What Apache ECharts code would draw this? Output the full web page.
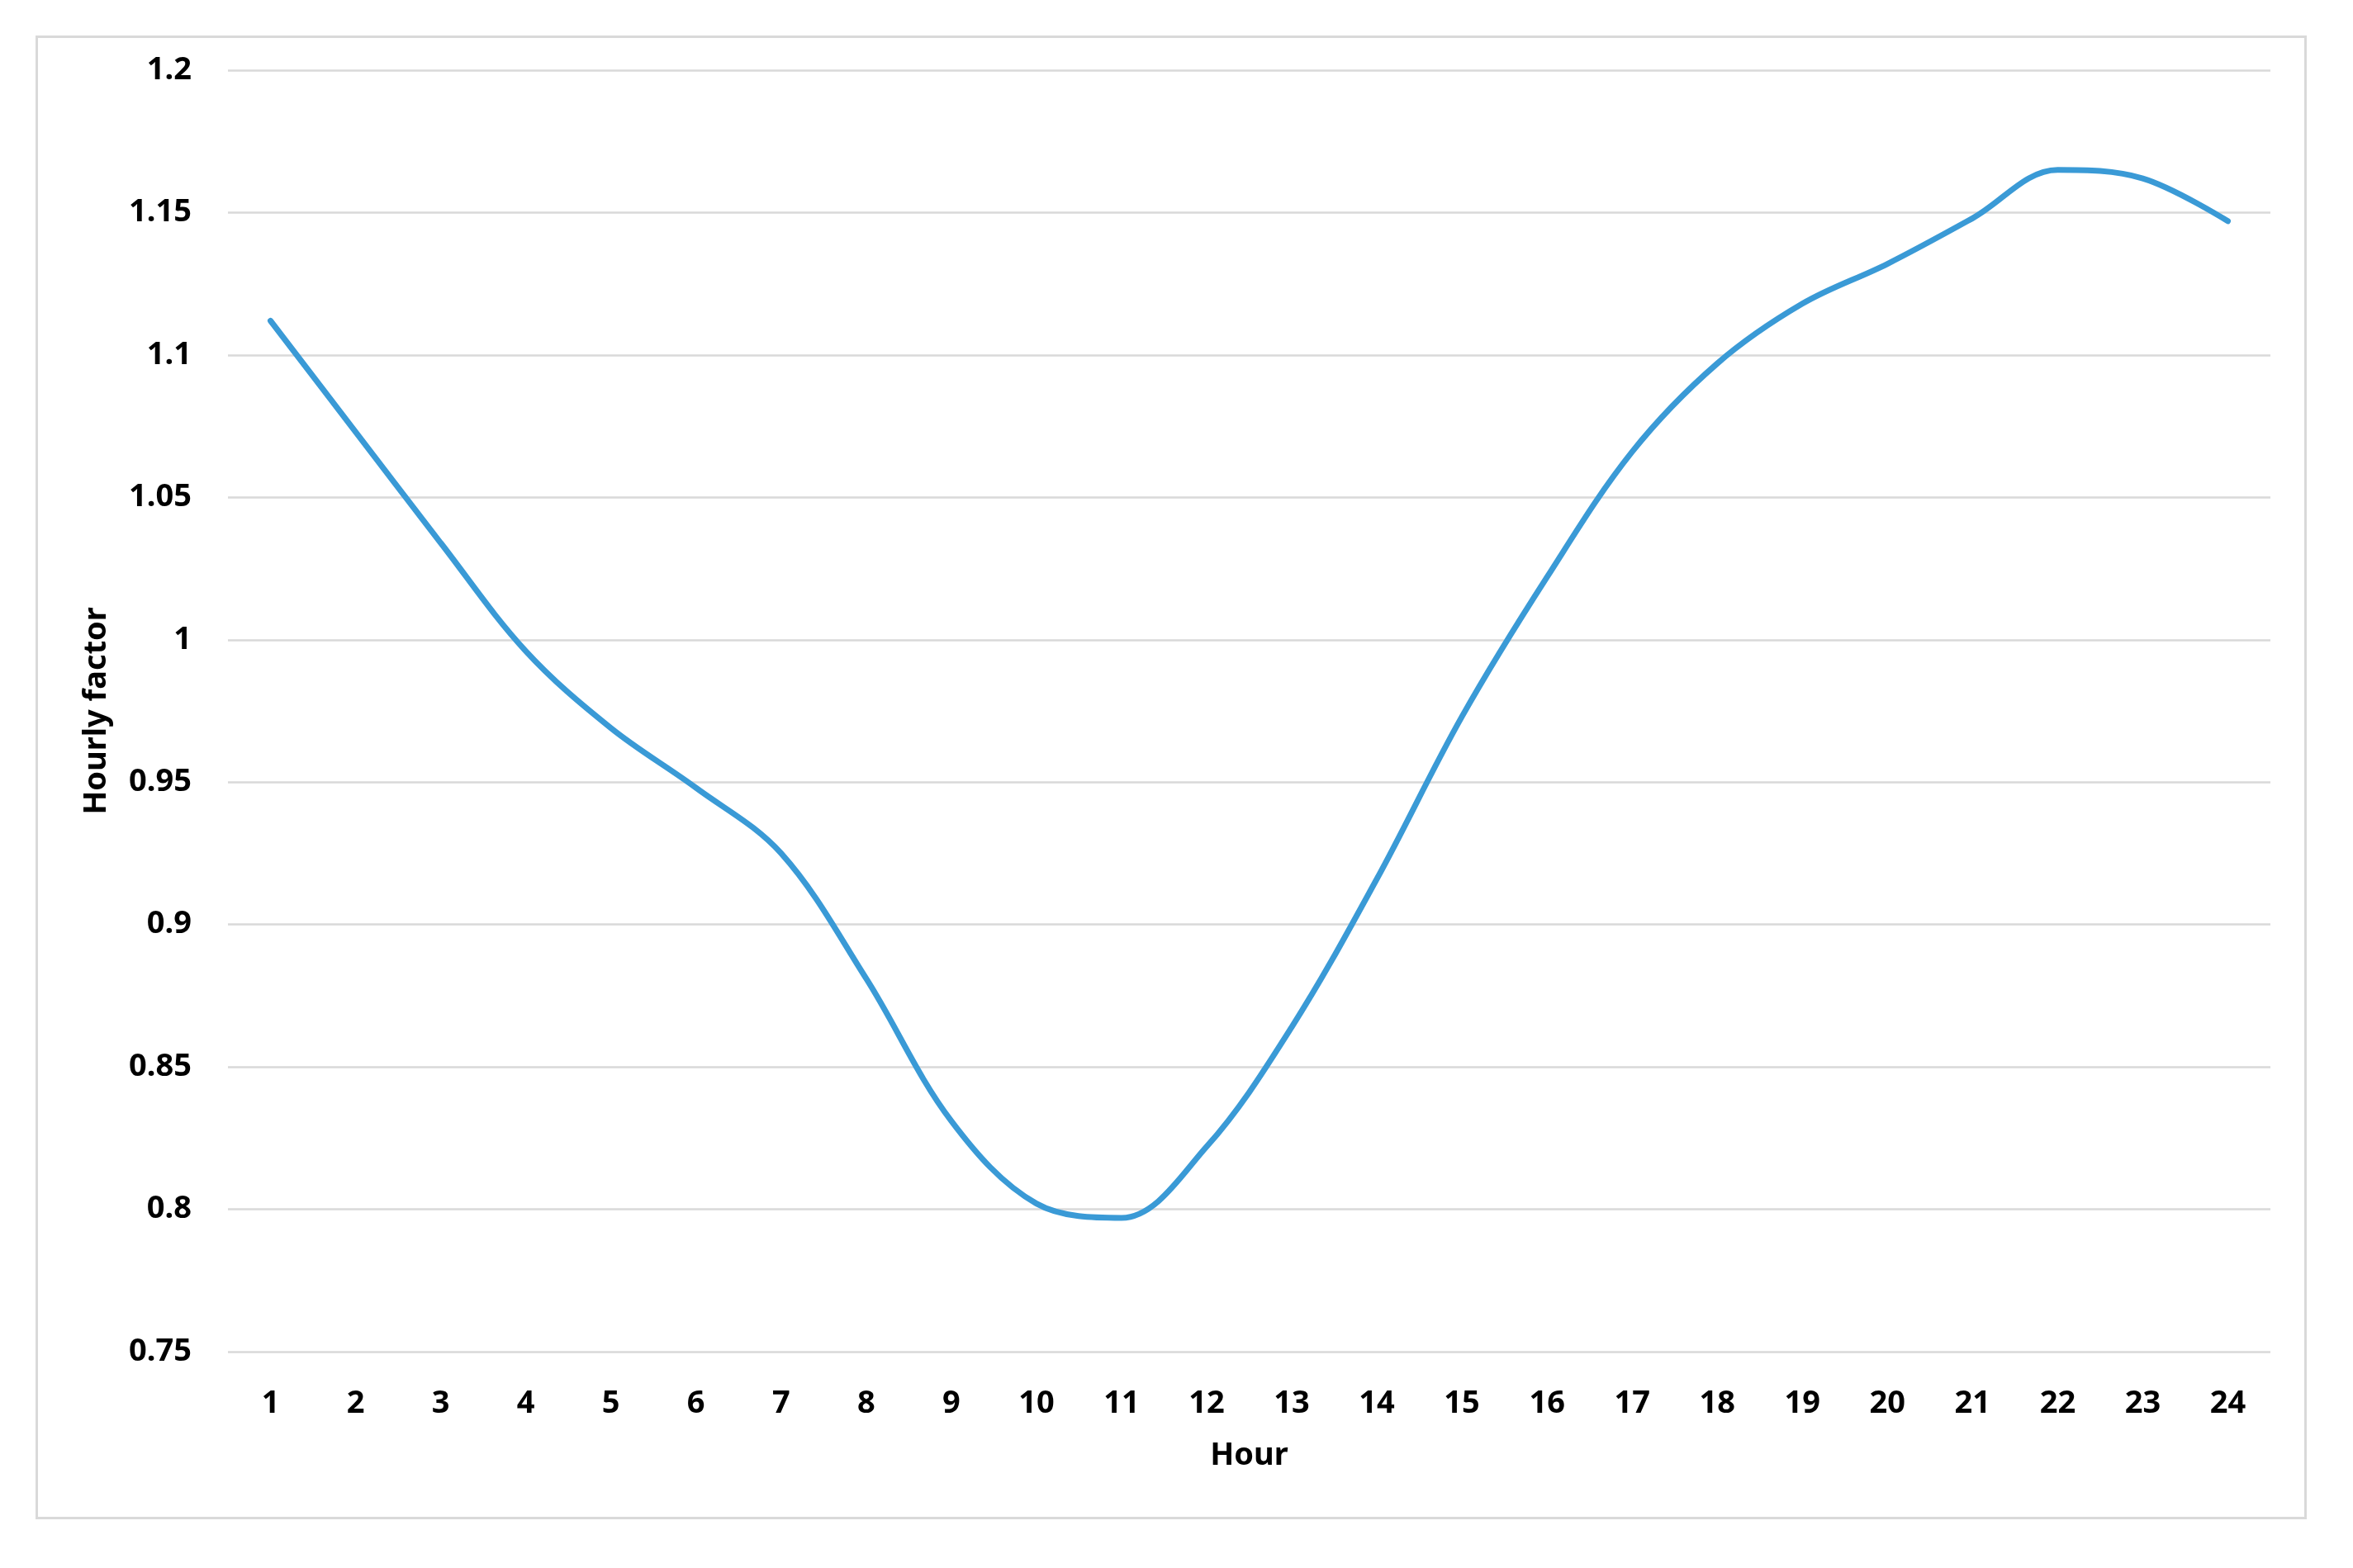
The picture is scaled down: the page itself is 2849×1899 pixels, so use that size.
<!DOCTYPE html>
<html>
<head>
<meta charset="utf-8">
<script src="https://cdn.jsdelivr.net/npm/echarts@6/dist/echarts.min.js"></script>
<style>
html,body{margin:0;padding:0;background:#fff;}
#chart{width:2849px;height:1899px;}
</style>
</head>
<body>
<div id="chart"></div>
<script>
const hours = ['1','2','3','4','5','6','7','8','9','10','11','12','13','14','15','16','17','18','19','20','21','22','23','24'];
const hourlyFactor = [1.112,1.073,1.034,0.996,0.969,0.948,0.925,0.881,0.831,0.802,0.797,0.822,0.864,0.916,0.973,1.022,1.066,1.097,1.118,1.132,1.148,1.165,1.162,1.147];
const yMin = 0.75, yMax = 1.2, yStep = 0.05;

const FONT = '"Noto Sans", "Liberation Sans", sans-serif';
const chart = echarts.init(document.getElementById('chart'), null, {renderer:'canvas'});
chart.setOption({
  backgroundColor:'#ffffff',
  animation:false,
  graphic:[{
    type:'rect', left:42, top:42, silent:true,
    shape:{width:2747, height:1794},
    style:{fill:'none', stroke:'#d9d9d9', lineWidth:3}
  }],
  grid:{left:276, right:100, top:85, bottom:262, containLabel:false},
  xAxis:{
    type:'category', data:hours, boundaryGap:true,
    name:'Hour', nameLocation:'middle', nameGap:107,
    nameTextStyle:{fontFamily:FONT, fontWeight:'bold', fontSize:38, color:'#000'},
    axisLine:{show:false}, axisTick:{show:false},
    axisLabel:{margin:44, fontFamily:FONT, fontWeight:'bold', fontSize:38, color:'#000'}
  },
  yAxis:{
    type:'value', min:yMin, max:yMax, interval:yStep,
    name:'Hourly factor', nameLocation:'middle', nameGap:140, nameRotate:90,
    nameTextStyle:{fontFamily:FONT, fontWeight:'bold', fontSize:38, color:'#000'},
    axisLine:{show:false}, axisTick:{show:false},
    axisLabel:{margin:44, fontFamily:FONT, fontWeight:'bold', fontSize:38, color:'#000'},
    splitLine:{show:true, lineStyle:{color:'#d9d9d9', width:2.5}}
  },
  series:[{
    type:'line', data:hourlyFactor, smooth:0.35, showSymbol:false,
    lineStyle:{color:'#3a9ad6', width:7, cap:'round'}
  }]
});
</script>
</body>
</html>
